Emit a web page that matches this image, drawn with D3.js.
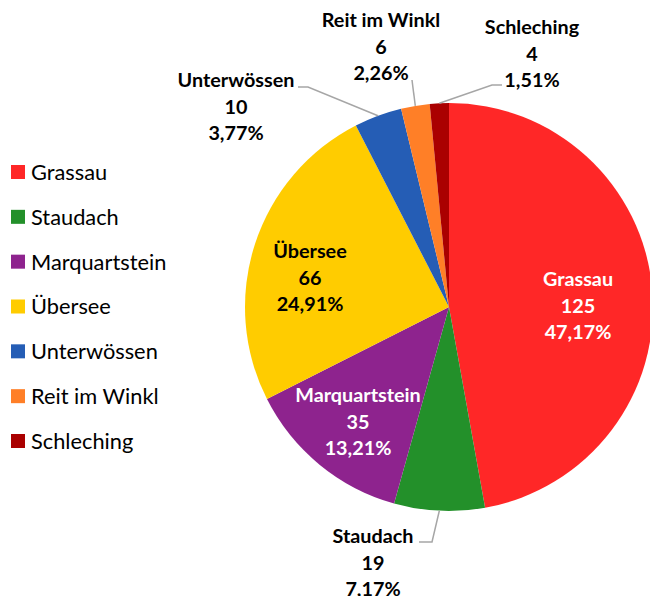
<!DOCTYPE html>
<html><head><meta charset="utf-8">
<script src="https://cdn.jsdelivr.net/npm/d3@7"></script>
<style>body{margin:0;background:#fff}svg{display:block}</style>
</head><body>
<svg id="c" width="650" height="596"></svg>
<script>
const categories = ["Grassau","Staudach","Marquartstein","Übersee","Unterwössen","Reit im Winkl","Schleching"];
const values = [125,19,35,66,10,6,4];
const colors = ["#FF2727","#23902A","#8E238E","#FFCC00","#255DB5","#FF7F27","#AA0000"];

const svg = d3.select("#c");
const W=650,H=596, cx=449, cy=307, R=204;
const font = "Lato, 'Open Sans', sans-serif";
const total = d3.sum(values);
const data = categories.map((c,i)=>({name:c,value:values[i],color:colors[i]}));
const pie = d3.pie().sort(null).value(d=>d.value).startAngle(0).endAngle(2*Math.PI);
const arcs = pie(data);
const arc = d3.arc().innerRadius(0).outerRadius(R);
const g = svg.append("g").attr("transform",`translate(${cx},${cy})`);
g.selectAll("path").data(arcs).join("path")
  .attr("d",arc).attr("fill",d=>d.data.color);

const fmtPct = v => (v*100).toFixed(2).replace(".",",")+"%";

// label layout (pixel offsets relative to pie centre)
const layout = {
  "Grassau":      {x:578-cx, y:306-cy, fill:"#fff", inside:true},
  "Übersee":      {x:310-cx, y:278-cy, fill:"#000", inside:true},
  "Marquartstein":{x:358-cx, y:422-cy, fill:"#fff", inside:true},
  "Staudach":     {x:373-cx, y:563-cy, fill:"#000", elbow:[[432-cx,542-cy],[419-cx,542-cy]]},
  "Unterwössen":  {x:236-cx, y:107-cy, fill:"#000", elbow:[[308-cx,87-cy],[298-cx,87-cy]]},
  "Reit im Winkl":{x:381-cx, y:47-cy,  fill:"#000", elbow:[[412-cx,80-cy]]},
  "Schleching":   {x:532-cx, y:54-cy,  fill:"#000", elbow:[[492-cx,85-cy],[502-cx,85-cy]]}
};
const lh = 26.5;
arcs.forEach(a=>{
  const L = layout[a.data.name];
  if(L.elbow){
    const m=(a.startAngle+a.endAngle)/2;
    const p0=[R*Math.sin(m), -R*Math.cos(m)];
    g.append("polyline").attr("points",[p0,...L.elbow].map(p=>p.join(",")).join(" "))
      .attr("fill","none").attr("stroke","#A6A6A6").attr("stroke-width",1.5);
  }
  const t = g.append("text").attr("text-anchor","middle")
    .attr("font-family",font).attr("font-weight","bold").attr("font-size",19.8)
    .attr("fill",L.fill);
  [a.data.name, String(a.data.value), fmtPct(a.data.value/total)].forEach((s,i)=>{
    t.append("tspan").attr("x",L.x).attr("y",L.y+(i-1)*lh).attr("dy","0.35em").text(s);
  });
});

// legend
const lg = svg.append("g");
const ly = d3.scalePoint().domain(categories).range([172,441]);
categories.forEach((c,i)=>{
  lg.append("rect").attr("x",11).attr("y",ly(c)-7).attr("width",14).attr("height",14).attr("fill",colors[i]);
  lg.append("text").attr("x",31).attr("y",ly(c)).attr("dy","0.36em")
    .attr("font-family",font).attr("font-size",21.8).attr("fill","#000").text(c);
});
</script>
</body></html>
